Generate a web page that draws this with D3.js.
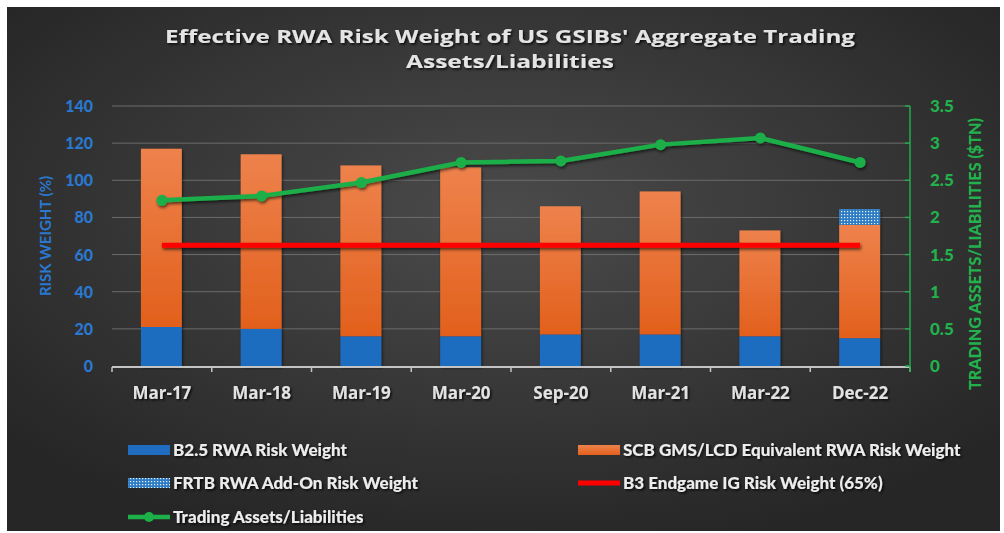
<!DOCTYPE html>
<html><head><meta charset="utf-8">
<script src="https://cdn.jsdelivr.net/npm/d3@7"></script>
<style>html,body{margin:0;padding:0;background:#fff;}svg{display:block;}</style>
</head><body>
<svg id="chart" width="1004" height="533"></svg>
<script>
const categories = ["Mar-17","Mar-18","Mar-19","Mar-20","Sep-20","Mar-21","Mar-22","Dec-22"];
const b25Weight = [21, 20, 16, 16, 17, 17, 16, 15];
const scbWeight = [96, 94, 92, 91, 69, 77, 57, 61];
const frtbAddOn = [0, 0, 0, 0, 0, 0, 0, 8.5];
const b3Endgame = [65, 65, 65, 65, 65, 65, 65, 65];
const tradingAssets = [2.23, 2.29, 2.47, 2.74, 2.76, 2.98, 3.07, 2.74];
const leftTicks = [0, 20, 40, 60, 80, 100, 120, 140];
const rightTicks = [0, 0.5, 1, 1.5, 2, 2.5, 3, 3.5];
const rightTickLabels = ["0","0.5","1","1.5","2","2.5","3","3.5"];
const titleLines = ["Effective RWA Risk Weight of US GSIBs' Aggregate Trading", "Assets/Liabilities"];
const legendItems = [
  {key:"b25", label:"B2.5 RWA Risk Weight"},
  {key:"scb", label:"SCB GMS/LCD Equivalent RWA Risk Weight"},
  {key:"frtb", label:"FRTB RWA Add-On Risk Weight"},
  {key:"b3", label:"B3 Endgame IG Risk Weight (65%)"},
  {key:"ta", label:"Trading Assets/Liabilities"}
];

const svg = d3.select("#chart");
const defs = svg.append("defs");

const bg = defs.append("radialGradient").attr("id","bgGrad")
  .attr("cx","50%").attr("cy","40%").attr("r","65%");
bg.append("stop").attr("offset","0%").attr("stop-color","#4b4b4b");
bg.append("stop").attr("offset","100%").attr("stop-color","#262626");

const og = defs.append("linearGradient").attr("id","orangeGrad").attr("x1","0").attr("y1","0").attr("x2","0").attr("y2","1");
og.append("stop").attr("offset","0%").attr("stop-color","#ee824c");
og.append("stop").attr("offset","100%").attr("stop-color","#e2601c");

const pat = defs.append("pattern").attr("id","dots").attr("patternUnits","userSpaceOnUse")
  .attr("width",3).attr("height",3);
pat.append("rect").attr("width",3).attr("height",3).attr("fill","#2f7cc4");
pat.append("rect").attr("x",1).attr("y",1).attr("width",1.2).attr("height",1.2).attr("fill","#e8f2fb");

const sh = defs.append("filter").attr("id","shadow").attr("x","-20%").attr("y","-20%").attr("width","140%").attr("height","160%");
sh.append("feDropShadow").attr("dx",1.5).attr("dy",1.5).attr("stdDeviation",1.2).attr("flood-color","#000").attr("flood-opacity",0.8);
const sh2 = defs.append("filter").attr("id","lineShadow").attr("filterUnits","userSpaceOnUse")
  .attr("x",0).attr("y",0).attr("width",1004).attr("height",533);
sh2.append("feDropShadow").attr("dx",1).attr("dy",2).attr("stdDeviation",1.5).attr("flood-color","#000").attr("flood-opacity",0.6);

svg.append("rect").attr("x",7).attr("y",7).attr("width",993).attr("height",524).attr("fill","url(#bgGrad)");

const x = d3.scaleBand().domain(categories).range([112, 910]).paddingInner(0).paddingOuter(0);
const yL = d3.scaleLinear().domain([0,140]).range([366,106]);
const yR = d3.scaleLinear().domain([0,3.5]).range([366,106]);
const barW = x.bandwidth()*0.41;

svg.append("g").selectAll("line").data(leftTicks.filter(d=>d>0)).join("line")
  .attr("x1",112).attr("x2",910).attr("y1",d=>yL(d)).attr("y2",d=>yL(d))
  .attr("stroke","#6c6c6c").attr("stroke-width",1);

const bars = svg.append("g").attr("filter","url(#lineShadow)");
categories.forEach((c,i)=>{
  const cx = x(c) + x.bandwidth()/2 - 0.5;
  const b = b25Weight[i], s = scbWeight[i], f = frtbAddOn[i];
  bars.append("rect").attr("x",cx-barW/2).attr("width",barW)
    .attr("y",yL(b)).attr("height",yL(0)-yL(b)).attr("fill","#1f6cc0");
  bars.append("rect").attr("x",cx-barW/2).attr("width",barW)
    .attr("y",yL(b+s)).attr("height",yL(b)-yL(b+s)).attr("fill","url(#orangeGrad)");
  if (f>0) bars.append("rect").attr("x",cx-barW/2).attr("width",barW)
    .attr("y",yL(b+s+f)).attr("height",yL(b+s)-yL(b+s+f)).attr("fill","url(#dots)");
});

const xAxis = svg.append("g");
xAxis.append("line").attr("x1",112).attr("x2",910).attr("y1",367).attr("y2",367)
  .attr("stroke","#c4c4c4").attr("stroke-width",2);
xAxis.selectAll("line.tk").data(categories.concat(["end"])).join("line").attr("class","tk")
  .attr("x1",(d,i)=>i<categories.length? x(d): 910).attr("x2",(d,i)=>i<categories.length? x(d): 910)
  .attr("y1",367).attr("y2",372).attr("stroke","#c4c4c4").attr("stroke-width",1.5);
xAxis.selectAll("text").data(categories).join("text")
  .attr("x",d=>x(d)+x.bandwidth()/2).attr("y",399)
  .attr("text-anchor","middle").attr("fill","#e2e2e2")
  .attr("font-family","'Open Sans', sans-serif").attr("font-weight","bold").attr("font-size","17px")
  .attr("filter","url(#shadow)")
  .text(d=>d);

svg.append("g").selectAll("text").data(leftTicks).join("text")
  .attr("x",93).attr("y",d=>yL(d)+6).attr("text-anchor","end")
  .attr("fill","#2a78cf").attr("font-family","Lato, sans-serif").attr("font-weight","900")
  .attr("font-size","16px").text(d=>d);
svg.append("text").attr("transform","translate(51,236) rotate(-90)").attr("text-anchor","middle")
  .attr("fill","#2a78cf").attr("font-family","Lato, sans-serif").attr("font-weight","bold")
  .attr("font-size","15px").text("RISK WEIGHT (%)");

const rAx = svg.append("g");
rAx.append("line").attr("x1",910).attr("x2",910).attr("y1",106).attr("y2",372)
  .attr("stroke","#1fae4a").attr("stroke-width",1.5);
rAx.selectAll("line.tk").data(rightTicks).join("line").attr("class","tk")
  .attr("x1",905).attr("x2",910).attr("y1",d=>yR(d)).attr("y2",d=>yR(d))
  .attr("stroke","#1fae4a").attr("stroke-width",1.5);
rAx.selectAll("text").data(rightTicks).join("text")
  .attr("x",930).attr("y",d=>yR(d)+6).attr("text-anchor","start")
  .attr("fill","#22b14c").attr("font-family","Lato, sans-serif").attr("font-weight","900")
  .attr("font-size","17px").text((d,i)=>rightTickLabels[i]);
svg.append("text").attr("transform","translate(981,254) rotate(-90)").attr("text-anchor","middle")
  .attr("fill","#22b14c").attr("font-family","Lato, sans-serif").attr("font-weight","900")
  .attr("font-size","16px").attr("textLength",272).attr("lengthAdjust","spacingAndGlyphs")
  .text("TRADING ASSETS/LIABILITIES ($TN)");

const red = d3.line().x((d,i)=>x(categories[i])+x.bandwidth()/2).y(d=>yL(d));
svg.append("path").datum(b3Endgame).attr("d",red).attr("fill","none")
  .attr("stroke","#ff0000").attr("stroke-width",5).attr("filter","url(#lineShadow)");

const gl = d3.line().x((d,i)=>x(categories[i])+x.bandwidth()/2).y(d=>yR(d));
const gG = svg.append("g").attr("filter","url(#lineShadow)");
gG.append("path").datum(tradingAssets).attr("d",gl).attr("fill","none")
  .attr("stroke","#1daf48").attr("stroke-width",4.5).attr("stroke-linejoin","round");
gG.selectAll("circle").data(tradingAssets).join("circle")
  .attr("cx",(d,i)=>x(categories[i])+x.bandwidth()/2).attr("cy",d=>yR(d)).attr("r",5.5)
  .attr("fill","#1daf48");

const tG = svg.append("g").attr("filter","url(#shadow)");
const tWidths = [690, 208];
titleLines.forEach((t,i)=>{
  tG.append("text").attr("x",510).attr("y",43+i*25).attr("text-anchor","middle")
    .attr("fill","#e4e4e4").attr("font-family","'Open Sans', sans-serif").attr("font-weight","bold")
    .attr("font-size","18.5px").attr("textLength",tWidths[i]).attr("lengthAdjust","spacingAndGlyphs").text(t);
});

const lpos = [[128,450],[578,450],[128,483],[578,483],[128,517]];
const lg = svg.append("g");
legendItems.forEach((it,i)=>{
  const [lx,ly] = lpos[i];
  const g = lg.append("g");
  if (it.key==="b25") g.append("rect").attr("x",lx).attr("y",ly-5).attr("width",42).attr("height",10).attr("fill","#1f6cc0");
  if (it.key==="scb") g.append("rect").attr("x",lx).attr("y",ly-5).attr("width",42).attr("height",10).attr("fill","url(#orangeGrad)");
  if (it.key==="frtb") g.append("rect").attr("x",lx).attr("y",ly-5).attr("width",42).attr("height",10).attr("fill","url(#dots)");
  if (it.key==="b3") g.append("line").attr("x1",lx).attr("x2",lx+42).attr("y1",ly).attr("y2",ly).attr("stroke","#ff0000").attr("stroke-width",5);
  if (it.key==="ta") {
    g.append("line").attr("x1",lx).attr("x2",lx+42).attr("y1",ly).attr("y2",ly).attr("stroke","#1daf48").attr("stroke-width",4.5);
    g.append("circle").attr("cx",lx+21).attr("cy",ly).attr("r",5).attr("fill","#1daf48");
  }
  g.append("text").attr("x",lx+45).attr("y",ly+6).attr("fill","#ececec")
    .attr("font-family","Lato, sans-serif").attr("font-weight","900").attr("font-size","17px")
    .attr("filter","url(#shadow)").text(it.label);
});
</script>
</body></html>
